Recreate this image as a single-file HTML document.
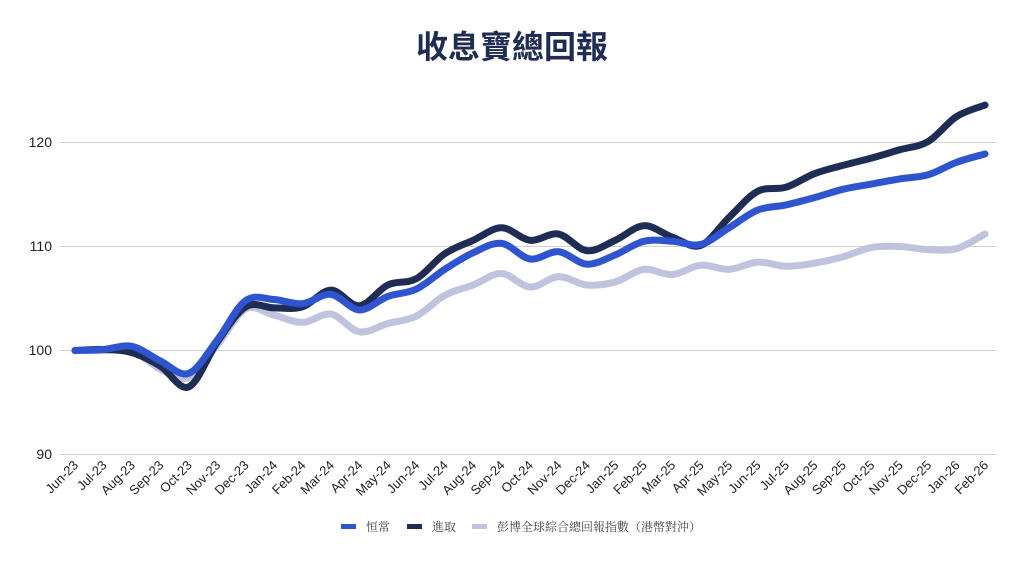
<!DOCTYPE html>
<html><head><meta charset="utf-8"><style>
body{margin:0;background:#fff;width:1024px;height:563px;overflow:hidden}
svg{display:block}
</style></head><body>
<svg id="s" width="1024" height="563" xmlns="http://www.w3.org/2000/svg" font-family="Liberation Sans, sans-serif">
<text x="512" y="58" text-anchor="middle" font-size="32" font-weight="bold" fill="#1f2d55" font-family="Liberation Sans, Noto Sans CJK TC, sans-serif">收息寶總回報</text>
<g stroke="#d0d0d0" stroke-width="1">
<line x1="60" x2="996" y1="142.5" y2="142.5"/><line x1="60" x2="996" y1="246.5" y2="246.5"/>
<line x1="60" x2="996" y1="350.5" y2="350.5"/><line x1="60" x2="996" y1="454.5" y2="454.5"/>
</g>
<g font-size="14" fill="#222" text-anchor="end">
<text x="52" y="147">120</text><text x="52" y="251">110</text><text x="52" y="355">100</text><text x="52" y="459">90</text>
</g>
<g id="xl" font-size="13" fill="#222" text-anchor="end"></g>
<g id="lines" fill="none" stroke-width="7" stroke-linecap="round" stroke-linejoin="round"></g>
<g font-size="12" fill="#444" font-family="Liberation Serif, Noto Serif CJK SC, serif">
<rect x="341" y="524" width="15" height="5" fill="#2f54d0"/><text x="366" y="531">恒常</text>
<rect x="407" y="524" width="15" height="5" fill="#1f2d55"/><text x="432" y="531">進取</text>
<rect x="472" y="524" width="15" height="5" fill="#c0c3dd"/><text x="497" y="531">彭博全球綜合總回報指數（港幣對沖）</text>
</g>
</svg>
<script>
var m=["Jun-23","Jul-23","Aug-23","Sep-23","Oct-23","Nov-23","Dec-23","Jan-24","Feb-24","Mar-24","Apr-24","May-24","Jun-24","Jul-24","Aug-24","Sep-24","Oct-24","Nov-24","Dec-24","Jan-25","Feb-25","Mar-25","Apr-25","May-25","Jun-25","Jul-25","Aug-25","Sep-25","Oct-25","Nov-25","Dec-25","Jan-26","Feb-26"];
var X=function(i){return 75+i*28.44},Y=function(v){return 350.5-(v-100)*10.4};
var xl=document.getElementById('xl'),h='';
m.forEach(function(t,i){var x=X(i)+4,y=466;h+='<text x="'+x+'" y="'+y+'" transform="rotate(-45 '+x+' '+y+')">'+t+'</text>'});
xl.innerHTML=h;
var S=[["#c0c3dd",[100,100,100,98.2,97.4,100.5,104,103.4,102.7,103.5,101.8,102.6,103.3,105.3,106.3,107.4,106.1,107.1,106.3,106.6,107.8,107.3,108.2,107.8,108.5,108.1,108.4,109,109.9,110,109.7,109.8,111.2]],
["#1f2d55",[100,100.1,99.8,98.5,96.5,100.8,104.2,104.1,104.2,105.8,104.3,106.3,106.9,109.3,110.6,111.8,110.6,111.2,109.6,110.6,112,110.9,110.1,112.8,115.3,115.7,117,117.8,118.5,119.3,120.1,122.5,123.6]],
["#2f54d0",[100,100.1,100.4,99,97.8,101,104.8,104.9,104.5,105.4,103.9,105.2,105.9,107.8,109.4,110.3,108.8,109.5,108.3,109.2,110.5,110.5,110.2,111.8,113.5,114,114.7,115.5,116,116.5,116.9,118.1,118.9]]];
var g='';
S.forEach(function(s){var p=s[1].map(function(v,i){return[X(i),Y(v)]}),d='M'+p[0][0]+','+p[0][1];
for(var i=0;i<p.length-1;i++){var a=p[Math.max(i-1,0)],b=p[i],c=p[i+1],e=p[Math.min(i+2,p.length-1)];
d+=' C'+(b[0]+(c[0]-a[0])/6)+','+(b[1]+(c[1]-a[1])/6)+' '+(c[0]-(e[0]-b[0])/6)+','+(c[1]-(e[1]-b[1])/6)+' '+c[0]+','+c[1];}
g+='<path d="'+d+'" stroke="'+s[0]+'"/>'});
document.getElementById('lines').innerHTML=g;
</script>
</body></html>
